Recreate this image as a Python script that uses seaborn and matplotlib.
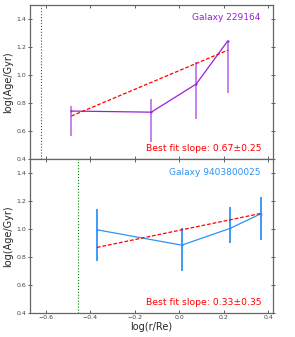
"""Age gradient panels for two galaxies."""

import matplotlib
matplotlib.use("Agg")
import matplotlib.pyplot as plt
import numpy as np
import pandas as pd
import seaborn as sns

# Galaxy 229164
top_name = "Galaxy 229164"
top_x = [-0.485, -0.126, 0.076, 0.218]
top_y = [0.743, 0.735, 0.936, 1.245]
top_err_lo = [0.179, 0.214, 0.250, 0.371]
top_err_hi = [0.036, 0.094, 0.157, 0.0]
top_slope, top_slope_err, top_icpt = 0.67, 0.25, 1.032
top_re_lim = -0.622

# Galaxy 9403800025
bot_name = "Galaxy 9403800025"
bot_x = [-0.370, 0.011, 0.228, 0.367]
bot_y = [0.995, 0.885, 1.005, 1.110]
bot_err_lo = [0.220, 0.181, 0.101, 0.187]
bot_err_hi = [0.145, 0.125, 0.153, 0.117]
bot_slope, bot_slope_err, bot_icpt = 0.33, 0.35, 0.991
bot_re_lim = -0.455

PANELS = [
    (top_name, top_x, top_y, top_err_lo, top_err_hi, top_slope, top_slope_err, top_icpt, top_re_lim, "#9B1FD8"),
    (bot_name, bot_x, bot_y, bot_err_lo, bot_err_hi, bot_slope, bot_slope_err, bot_icpt, bot_re_lim, "#2E93F5"),
]

sns.set_style("ticks")
plt.rcParams["font.family"] = ["DejaVu Sans"]

fig, axes = plt.subplots(2, 1, figsize=(2.95, 3.37), dpi=100, sharex=True)
fig.subplots_adjust(left=0.102, right=0.925, top=0.985, bottom=0.071, hspace=0)

for ax, (name, xs, ys, elo, ehi, slope, serr, icpt, re_lim, col) in zip(axes, PANELS):
    df = pd.DataFrame({"x": xs, "y": ys})
    ax.errorbar(xs, ys, yerr=[elo, ehi], fmt="none", ecolor=col, elinewidth=1.3,
                alpha=0.6 if col == "#9B1FD8" else 1.0, capsize=0)
    sns.lineplot(data=df, x="x", y="y", ax=ax, color=col, lw=0.9,
                 marker="o", markersize=1.5, markeredgewidth=0)
    fx = np.array([min(xs), max(xs)])
    ax.plot(fx, icpt + slope * fx, color="red", ls="--", lw=0.9, dashes=(3, 1.5))
    ax.axvline(re_lim, color="green", ls=":", lw=0.8)
    ax.text(0.947, 0.916, name, color=col, fontsize=6.5,
            ha="right", va="center", transform=ax.transAxes)
    ax.text(0.955, 0.071, f"Best fit slope: {slope:.2f}\u00b1{serr:.2f}", color="red",
            fontsize=6.7, ha="right", va="center", transform=ax.transAxes)
    ax.set_xlim(-0.67, 0.42)
    ax.set_ylim(0.4, 1.5)
    ax.set_yticks([0.4, 0.6, 0.8, 1.0, 1.2, 1.4])
    ax.set_xticks([-0.6, -0.4, -0.2, 0.0, 0.2, 0.4])
    ax.set_ylabel("log(Age/Gyr)", fontsize=7, labelpad=2)
    ax.set_xlabel("log(r/Re)", fontsize=7, labelpad=1)
    ax.tick_params(axis="both", labelsize=4.5, colors="#444444", length=2.5, width=0.6, pad=1.5)
    ax.tick_params(axis="x", direction="in", top=True, bottom=True)
    ax.tick_params(axis="y", right=True, direction="inout")
    for sp in ax.spines.values():
        sp.set_visible(True)
        sp.set_color("#666666")
        sp.set_linewidth(0.9)

axes[0].set_xlabel("")
axes[0].tick_params(axis="x", labelbottom=False)

fig.savefig("out.png", dpi=100)
